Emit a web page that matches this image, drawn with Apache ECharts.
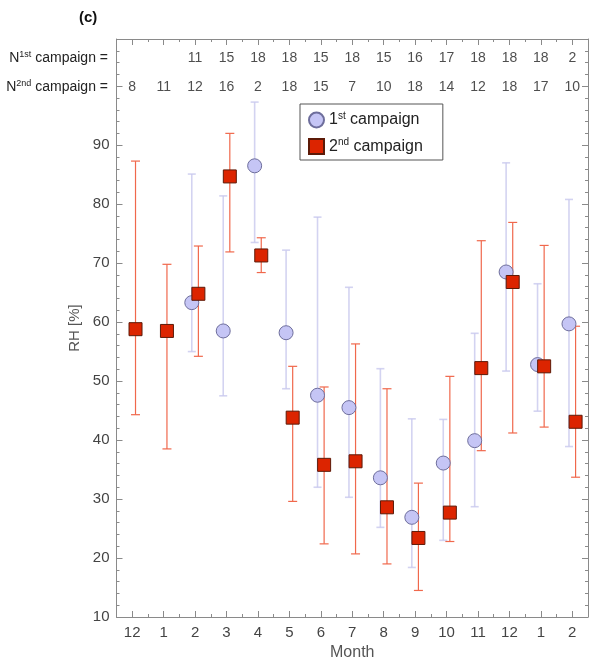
<!DOCTYPE html>
<html>
<head>
<meta charset="utf-8">
<script src="https://cdn.jsdelivr.net/npm/echarts@6/dist/echarts.min.js"></script>
<style>
  html, body { margin: 0; padding: 0; background: #fff; }
  #chart { width: 589px; height: 659px; }
</style>
</head>
<body>
<div id="chart"></div>
<script>
// Month labels along the x axis (two campaigns spanning Dec to Feb)
const months = ['12', '1', '2', '3', '4', '5', '6', '7', '8', '9', '10', '11', '12', '1', '2'];

// Number of samples per month
const n1st = ['', '', 11, 15, 18, 18, 15, 18, 15, 16, 17, 18, 18, 18, 2];
const n2nd = [8, 11, 12, 16, 2, 18, 15, 7, 10, 18, 14, 12, 18, 17, 10];

// 1st campaign: mean RH with upper / lower whisker ends
const rh1Mean = [null, null, 63.3, 58.5, 86.5, 58.2, 47.6, 45.5, 33.6, 26.9, 36.1, 39.9, 68.5, 52.8, 59.7];
const rh1High = [null, null, 85.1, 81.4, 97.3, 72.2, 77.8, 65.9, 52.1, 43.6, 43.5, 58.1, 87.0, 66.5, 80.8];
const rh1Low  = [null, null, 55.0, 47.5, 73.5, 48.7, 32.0, 30.3, 25.2, 18.4, 23.0, 28.7, 51.7, 44.9, 38.9];

// 2nd campaign: mean RH with upper / lower whisker ends
const rh2Mean = [58.8, 58.5, 64.8, 84.7, 71.3, 43.8, 35.8, 36.4, 28.6, 23.4, 27.7, 52.2, 66.8, 52.5, 43.1];
const rh2High = [87.3, 69.8, 72.9, 92.0, 74.3, 52.5, 49.0, 56.3, 48.7, 32.7, 50.8, 73.8, 76.9, 73.0, 59.3];
const rh2Low  = [44.3, 38.5, 54.2, 71.9, 68.4, 29.6, 22.4, 20.7, 19.0, 14.5, 22.8, 38.2, 41.2, 42.2, 33.7];

const yTicksShown = [10, 20, 30, 40, 50, 60, 70, 80, 90];

// side-by-side dodge of the two campaigns within a month slot
const DODGE = 0.105;

function meanPoints(vals, shift) {
  const out = [];
  vals.forEach((v, i) => { if (v != null) out.push([i + 1 + shift, v]); });
  return out;
}
function barPoints(hi, lo, shift) {
  const out = [];
  hi.forEach((h, i) => { if (h != null) out.push([i + 1 + shift, h, lo[i]]); });
  return out;
}
function whisker(color, width, cap) {
  return function (params, api) {
    const x = api.value(0);
    const top = api.coord([x, api.value(1)]);
    const bot = api.coord([x, api.value(2)]);
    const st = { stroke: color, lineWidth: width };
    return {
      type: 'group',
      children: [
        { type: 'line', shape: { x1: top[0], y1: top[1], x2: bot[0], y2: bot[1] }, style: st },
        { type: 'line', shape: { x1: top[0] - cap, y1: top[1], x2: top[0] + cap, y2: top[1] }, style: st },
        { type: 'line', shape: { x1: bot[0] - cap, y1: bot[1], x2: bot[0] + cap, y2: bot[1] }, style: st }
      ]
    };
  };
}
function countRow(counts, yVal) {
  return counts.map((c, i) => ({ value: [i + 1, yVal], label: { formatter: String(c) } }));
}

const FONT = 'Liberation Sans, Arial, sans-serif';
const axisGray = '#8a8a8a';

const chart = echarts.init(document.getElementById('chart'), null, { renderer: 'canvas' });

const valueX = (pos) => ({
  type: 'value', position: pos, min: 0.5, max: 15.5, interval: 0.5,
  axisLine: { show: true, lineStyle: { color: axisGray, width: 1 } },
  axisTick: { show: true, inside: true, length: 3, lineStyle: { color: axisGray } },
  axisLabel: { show: false }, splitLine: { show: false }
});
const catX = (pos, labels) => ({
  type: 'category', position: pos, data: months, boundaryGap: true,
  axisLine: { show: false },
  axisTick: { show: true, inside: true, alignWithLabel: true, length: 6, lineStyle: { color: axisGray } },
  axisLabel: labels ? { show: true, color: '#444', fontSize: 15, fontFamily: FONT, margin: 8 } : { show: false },
  splitLine: { show: false }
});
const valueY = (pos, labels) => ({
  type: 'value', position: pos, min: 10, max: 108, interval: 10,
  axisLine: { show: true, lineStyle: { color: axisGray, width: 1 } },
  axisTick: { show: true, inside: true, length: 6, lineStyle: { color: axisGray } },
  minorTick: { show: true, splitNumber: 5, length: 3, lineStyle: { color: axisGray } },
  axisLabel: labels ? {
    show: true, color: '#444', fontSize: 15, fontFamily: FONT, margin: 7,
    formatter: v => (yTicksShown.indexOf(v) >= 0 ? String(v) : '')
  } : { show: false },
  splitLine: { show: false }
});

const xBottomCat = catX('bottom', true);
xBottomCat.name = 'Month';
xBottomCat.nameLocation = 'middle';
xBottomCat.nameGap = 23;
xBottomCat.nameTextStyle = { color: '#555', fontSize: 16, fontFamily: FONT };

const yLeft = valueY('left', true);
yLeft.name = 'RH [%]';
yLeft.nameLocation = 'middle';
yLeft.nameGap = 29;
yLeft.nameTextStyle = { color: '#555', fontSize: 15, fontFamily: FONT };

const supRich = {
  b: { fontSize: 14, fontFamily: FONT, color: '#222' },
  sup: { fontSize: 9, fontFamily: FONT, color: '#222', verticalAlign: 'top', padding: [0, 0, 7, 0] }
};
const legendRich = {
  b: { fontSize: 16, fontFamily: FONT, color: '#222' },
  sup: { fontSize: 10, fontFamily: FONT, color: '#222', verticalAlign: 'top', padding: [0, 0, 8, 0] }
};

const option = {
  backgroundColor: '#fff',
  animation: false,
  grid: { left: 116.5, right: 1, top: 39, bottom: 42, containLabel: false,
          outerBoundsMode: 'none', show: false },
  xAxis: [valueX('bottom'), xBottomCat, valueX('top'), catX('top', false)],
  yAxis: [yLeft, valueY('right', false)],
  legend: {
    data: ['1st campaign', '2nd campaign'],
    orient: 'vertical', left: 300, top: 104,
    padding: [7, 20, 5, 8], itemGap: 9, itemWidth: 15, itemHeight: 15,
    borderColor: '#555', borderWidth: 1, backgroundColor: '#fff',
    formatter: name => name === '1st campaign'
      ? '{b|1}{sup|st}{b| campaign}'
      : '{b|2}{sup|nd}{b| campaign}',
    textStyle: { rich: legendRich, fontFamily: FONT, fontSize: 16, color: '#222' }
  },
  graphic: [
    { type: 'text', x: 79, y: 18, style: { text: '(c)', font: 'bold 15px ' + FONT, fill: '#111',
      textVerticalAlign: 'middle' } },
    { type: 'text', x: 108, y: 58, style: { text: 'N{sup|1st}{b| campaign =}', rich: supRich,
      font: '14px ' + FONT, fill: '#222', textAlign: 'right', textVerticalAlign: 'middle' } },
    { type: 'text', x: 108, y: 87, style: { text: 'N{sup|2nd}{b| campaign =}', rich: supRich,
      font: '14px ' + FONT, fill: '#222', textAlign: 'right', textVerticalAlign: 'middle' } }
  ],
  series: [
    {
      name: 'bars1', type: 'custom', xAxisIndex: 0, yAxisIndex: 0, z: 1, silent: true,
      renderItem: whisker('rgba(200,200,238,0.8)', 1.6, 4),
      data: barPoints(rh1High, rh1Low, -DODGE)
    },
    {
      name: 'bars2', type: 'custom', xAxisIndex: 0, yAxisIndex: 0, z: 2, silent: true,
      renderItem: whisker('#f0684c', 1.2, 4.5),
      data: barPoints(rh2High, rh2Low, DODGE)
    },
    {
      name: '1st campaign', type: 'scatter', xAxisIndex: 0, yAxisIndex: 0, z: 3,
      symbol: 'circle', symbolSize: 14,
      itemStyle: { color: '#c5c5f5', borderColor: '#6e6e9c', borderWidth: 1, opacity: 1 },
      data: meanPoints(rh1Mean, -DODGE)
    },
    {
      name: '2nd campaign', type: 'scatter', xAxisIndex: 0, yAxisIndex: 0, z: 4,
      symbol: 'rect', symbolSize: 13,
      itemStyle: { color: '#dc2400', borderColor: '#5c1a08', borderWidth: 1, opacity: 1 },
      data: meanPoints(rh2Mean, DODGE)
    },
    {
      name: 'n1', type: 'scatter', xAxisIndex: 0, yAxisIndex: 0, symbolSize: 0, silent: true,
      label: { show: true, position: 'inside', color: '#222', fontSize: 14, fontFamily: FONT },
      data: countRow(n1st, 104.8)
    },
    {
      name: 'n2', type: 'scatter', xAxisIndex: 0, yAxisIndex: 0, symbolSize: 0, silent: true,
      label: { show: true, position: 'inside', color: '#222', fontSize: 14, fontFamily: FONT },
      data: countRow(n2nd, 99.9)
    }
  ]
};

chart.setOption(option);
</script>
</body>
</html>
